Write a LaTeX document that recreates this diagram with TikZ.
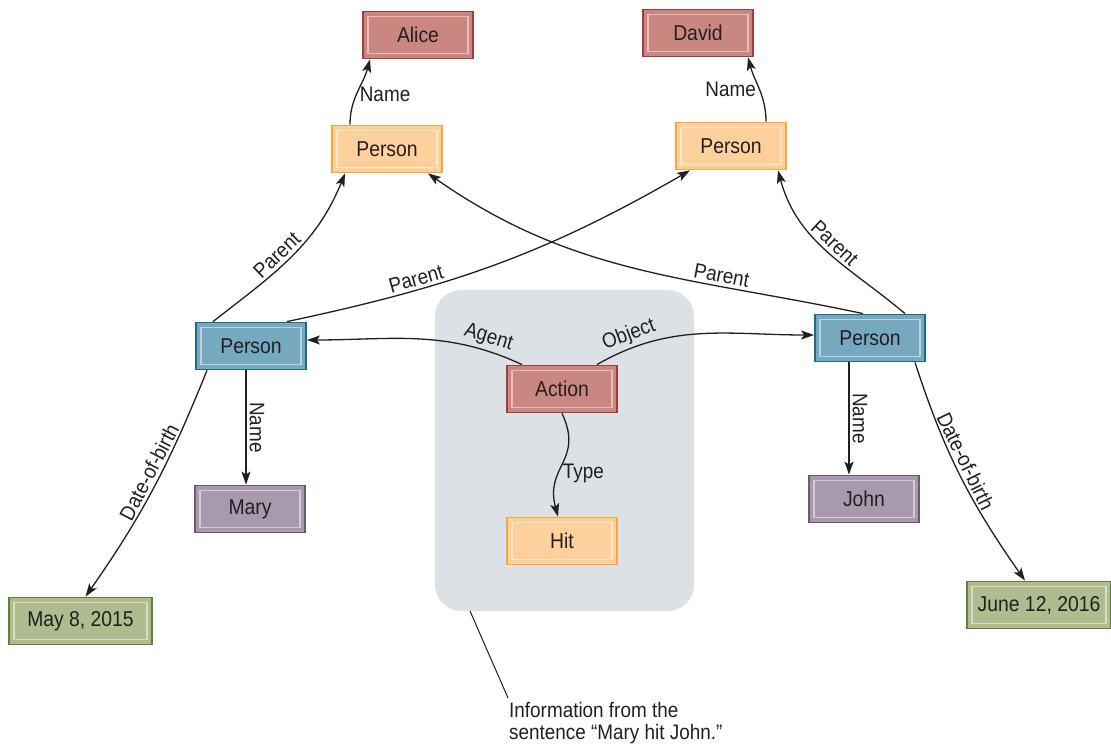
\documentclass[tikz,border=0pt]{standalone}
\usepackage{fontspec}
\setmainfont{Liberation Sans}[FakeStretch=0.9]
\usetikzlibrary{arrows.meta}
\definecolor{redfill}{HTML}{CA8782}
\definecolor{redline}{HTML}{A23F3D}
\definecolor{redin}{HTML}{E6BDB7}
\definecolor{orfill}{HTML}{FED09B}
\definecolor{orline}{HTML}{F7A640}
\definecolor{orin}{HTML}{FFE7C8}
\definecolor{blfill}{HTML}{76A8BF}
\definecolor{blline}{HTML}{1F6C8A}
\definecolor{blin}{HTML}{B7D4E1}
\definecolor{pufill}{HTML}{A899AE}
\definecolor{puline}{HTML}{6C5A75}
\definecolor{puin}{HTML}{D4CAD8}
\definecolor{grfill}{HTML}{AEBC8F}
\definecolor{grline}{HTML}{62803A}
\definecolor{grin}{HTML}{D6DEC2}
\definecolor{graybg}{HTML}{DCE1E6}
\definecolor{ink}{HTML}{231F20}
\tikzset{
  basebox/.style 2 args={draw=#1, fill=#2, line width=1.8pt, minimum width=110pt,
    minimum height=47pt, inner sep=0pt, text=ink,
    font=\fontsize{21.5pt}{22pt}\selectfont},
  inner/.style={path picture={\draw[#1, line width=1.3pt]
      ([shift={(5pt,-5pt)}]path picture bounding box.north west) rectangle
      ([shift={(-5pt,5pt)}]path picture bounding box.south east);}},
  redbox/.style={basebox={redline}{redfill}, inner=redin},
  orbox/.style={basebox={orline}{orfill}, inner=orin},
  blbox/.style={basebox={blline}{blfill}, inner=blin},
  pubox/.style={basebox={puline}{pufill}, inner=puin},
  grbox/.style={basebox={grline}{grfill}, inner=grin},
  edge/.style={draw=ink, line width=1.3pt, -{Stealth[length=13pt,width=9pt,inset=3pt]}},
  lbl/.style={text=ink, font=\fontsize{21pt}{22pt}\selectfont, inner sep=3pt},
}
\begin{document}
\begin{tikzpicture}[x=1pt,y=1pt]
\useasboundingbox (0,0) rectangle (1111,744);
% context box
\node[fill=graybg, rounded corners=26pt, minimum width=259pt, minimum height=321pt, inner sep=0pt] (ctx) at (564.5,293.5) {};
% nodes
\node[redbox] (alice) at (418,709) {Alice};
\node[redbox] (david) at (698,711) {David};
\node[orbox] (ol) at (387,595) {Person};
\node[orbox] (or) at (731,598) {Person};
\node[blbox] (bl) at (251,398) {Person};
\node[blbox] (br) at (870,406) {Person};
\node[redbox] (act) at (562,355) {Action};
\node[orbox] (hit) at (562,203) {Hit};
\node[pubox] (mary) at (250,235) {Mary};
\node[pubox] (john) at (864,245) {John};
\node[grbox, minimum width=143pt] (may) at (80.5,123) {May 8, 2015};
\node[grbox, minimum width=144pt] (june) at (1039,139) {June 12, 2016};
% edges
\draw[edge] ([xshift=-37pt]ol.north) to[out=90,in=-105] node[lbl,right,pos=.45]{Name} ([xshift=-48pt]alice.south);
\draw[edge] ([xshift=35pt]or.north) to[out=90,in=-75] node[lbl,left,pos=.5]{Name} ([xshift=50pt]david.south);
\draw[edge] ([xshift=-38pt]bl.north) to[out=38,in=-112] node[lbl,sloped,above,pos=.45]{Parent} ([xshift=-42pt]ol.south);
\draw[edge] ([xshift=36pt]bl.north) to[out=12,in=-150] node[lbl,sloped,above,pos=.3]{Parent} ([xshift=-41pt]or.south);
\draw[edge] ([xshift=-7pt]br.north) to[out=168,in=-35] node[lbl,sloped,above,pos=.3]{Parent} ([xshift=41pt]ol.south);
\draw[edge] ([xshift=35pt]br.north) to[out=140,in=-75] node[lbl,sloped,above,pos=.5]{Parent} ([xshift=47pt]or.south);
\draw[edge] ([xshift=-40pt]act.north) to[out=155,in=0] node[lbl,sloped,above,pos=.17]{Agent} ([yshift=6pt]bl.east);
\draw[edge] ([xshift=35pt]act.north) to[out=30,in=180] node[lbl,sloped,above,pos=.17]{Object} ([yshift=3pt]br.west);
\draw[edge] (act.south) to[out=-65,in=105,looseness=1.3] node[lbl,right,pos=.62]{Type} ([xshift=-4pt]hit.north);
\draw[edge] ([xshift=-5pt]bl.south) -- node[lbl,midway,rotate=-90,anchor=south]{Name} ([xshift=-4pt]mary.north);
\draw[edge] ([xshift=-21pt]br.south) -- node[lbl,midway,rotate=-90,anchor=south]{Name} ([xshift=-15pt]john.north);
\draw[edge] ([xshift=-44pt]bl.south) to[out=-112,in=55] node[lbl,sloped,above,pos=.45]{Date-of-birth} ([xshift=5pt]may.north);
\draw[edge] ([xshift=45pt]br.south) to[out=-72,in=125] node[lbl,sloped,above,pos=.45]{Date-of-birth} ([xshift=-14pt]june.north);
% annotation
\coordinate (ptr) at (470,133);
\node[lbl, anchor=north west, align=left, inner sep=0pt] (info) at (509,42) {Information from the\\sentence “Mary hit John.”};
\draw[ink, line width=1pt] (ptr) -- ([xshift=-1pt,yshift=4pt]info.north west);
\end{tikzpicture}
\end{document}
